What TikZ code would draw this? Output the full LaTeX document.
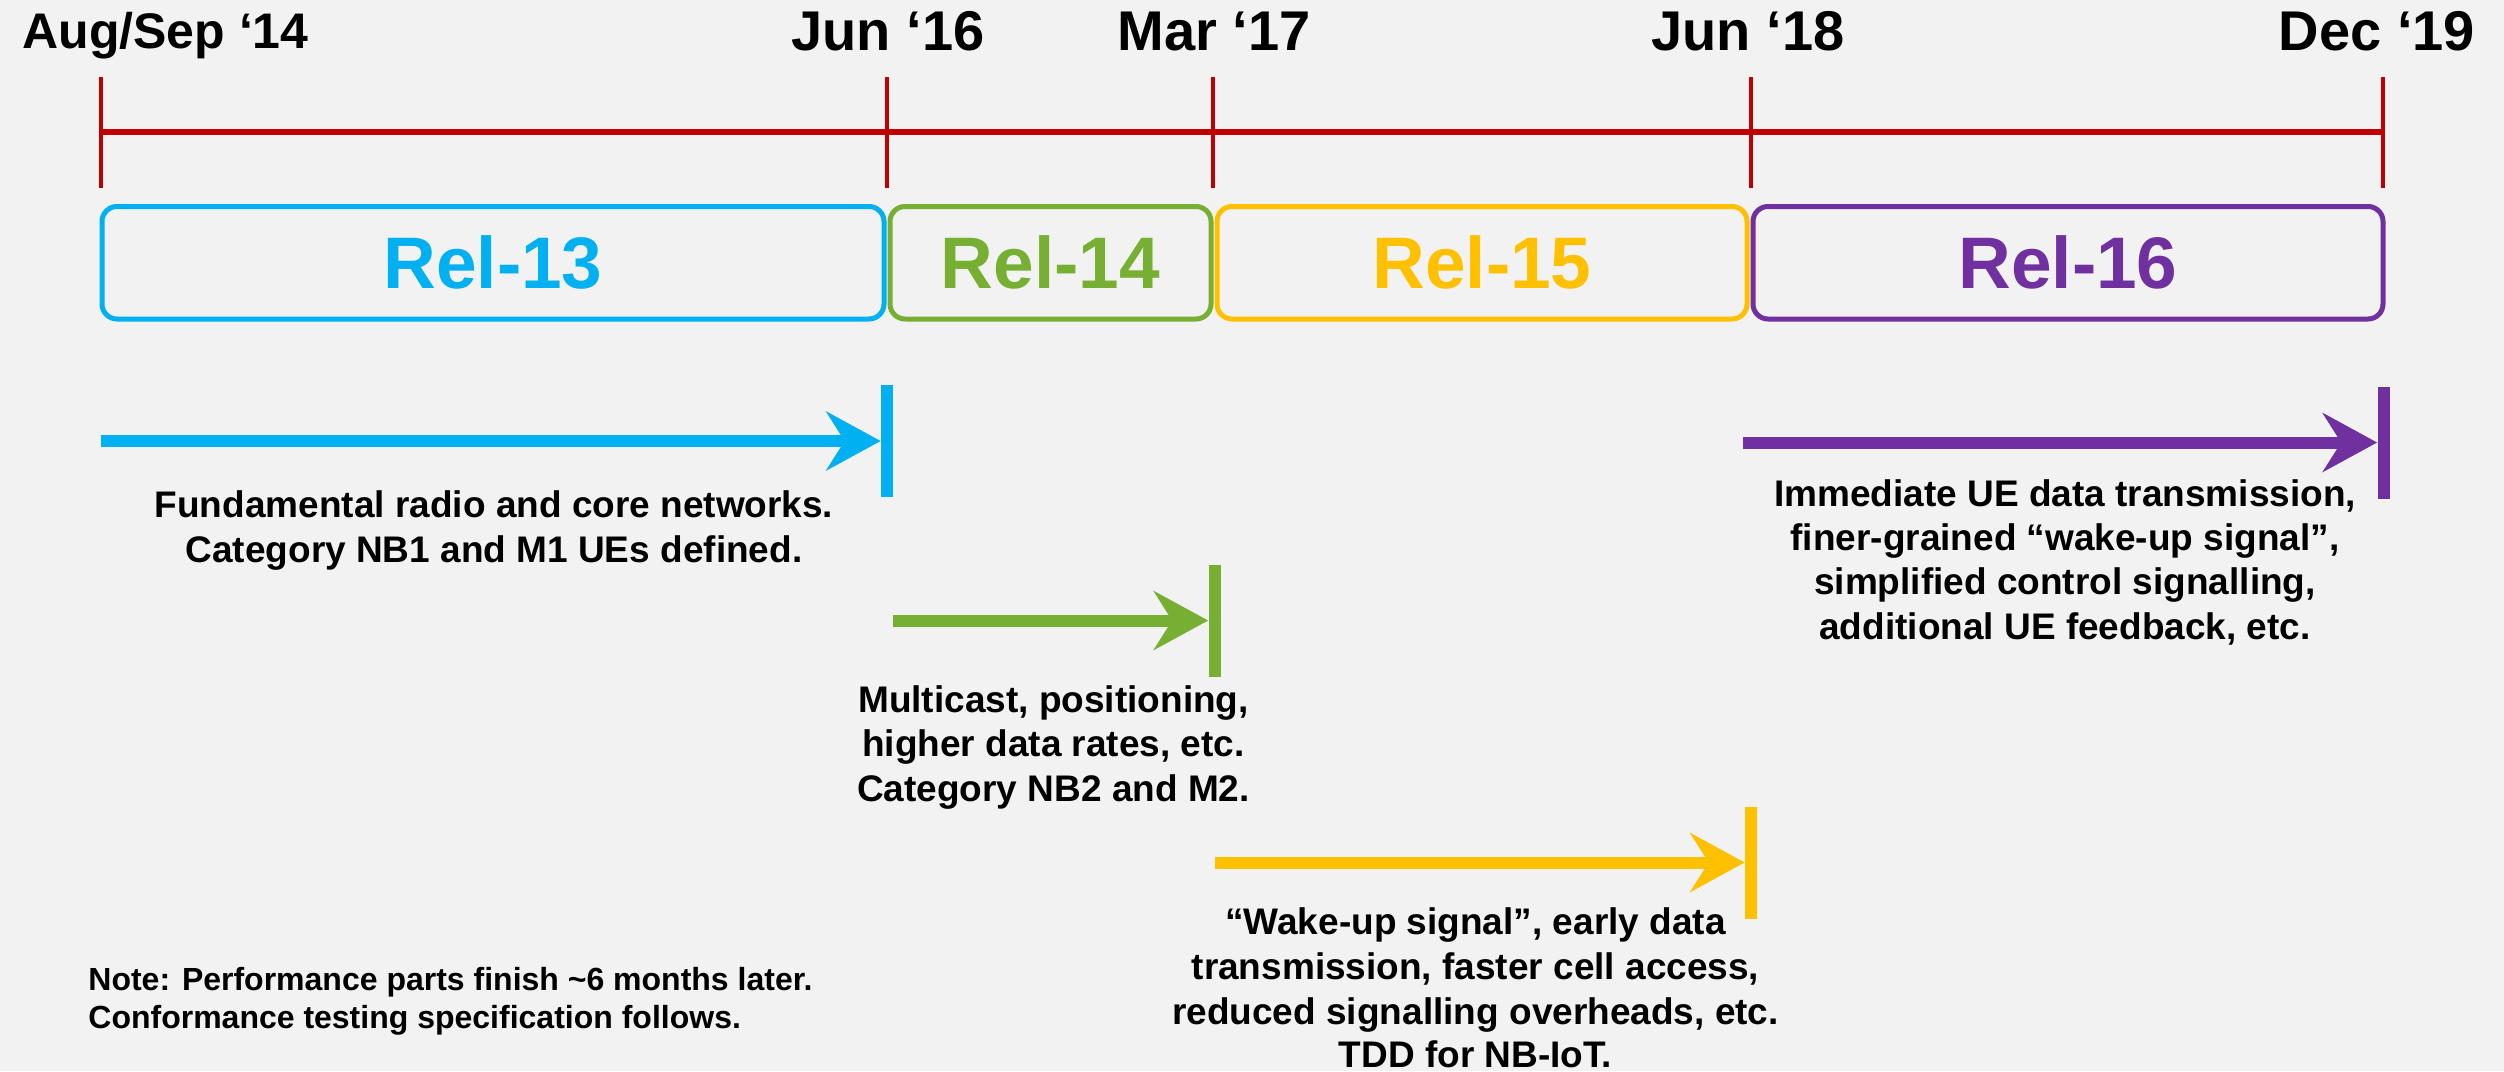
\documentclass[tikz,border=0pt]{standalone}
\usepackage{fontspec}
\setmainfont{Liberation Sans}
\usetikzlibrary{arrows.meta}
\definecolor{bg}{HTML}{F2F2F2}
\definecolor{tlred}{HTML}{C00000}
\definecolor{rblue}{HTML}{00B0F0}
\definecolor{rgreen}{HTML}{77AF32}
\definecolor{ryellow}{HTML}{FFC000}
\definecolor{rpurple}{HTML}{7030A0}
\begin{document}
\begin{tikzpicture}[x=0.5pt,y=-0.5pt,
  datelbl/.style={anchor=base,inner sep=0pt,font=\bfseries\fontsize{28pt}{33pt}\selectfont},
  relbox/.style={draw=#1,text=#1,line width=2.5pt,rounded corners=7.5pt,minimum height=56.25pt,
    inner sep=0pt,font=\bfseries\fontsize{36.5pt}{40pt}\selectfont},
  desc/.style={anchor=base,inner sep=0pt,font=\bfseries\fontsize{18.5pt}{22pt}\selectfont},
  notetxt/.style={anchor=base west,inner sep=0pt,font=\bfseries\fontsize{16pt}{19pt}\selectfont},
  endbar/.style={rectangle,draw=none,fill=#1,inner sep=0pt,minimum width=6pt,minimum height=56pt},
  arr/.style={draw=#1,line width=6pt,-{Stealth[length=27.5pt,width=30pt,inset=9.5pt,line width=0pt]}},
  tick/.style={draw=tlred,line width=2.25pt},
]
\fill[bg] (0,0) rectangle (2504,1071);
\useasboundingbox (0,0) rectangle (2504,1071);

% timeline
\coordinate (t0) at (101,132);
\coordinate (t1) at (887,132);
\coordinate (t2) at (1213,132);
\coordinate (t3) at (1751,132);
\coordinate (t4) at (2383,132);
\draw[tlred,line width=3pt] (t0) -- (t4);
\foreach \t in {t0,t1,t2,t3,t4}{
  \draw[tick] (\t) ++(0,-55) -- ++(0,111);
}

% date labels
\node[anchor=base west,inner sep=0pt,font=\bfseries\fontsize{25pt}{30pt}\selectfont] (dAug) at (22,48) {Aug/Sep ‘14};
\node[datelbl] (dJun16) at (888,50) {Jun ‘16};
\node[datelbl] (dMar17) at (1214,50) {Mar ‘17};
\node[datelbl] (dJun18) at (1748,50) {Jun ‘18};
\node[datelbl] (dDec19) at (2377,50) {Dec ‘19};

% release boxes
\node[relbox=rblue,minimum width=391pt] (r13) at (493,262.75) {Rel-13};
\node[relbox=rgreen,minimum width=160.5pt] (r14) at (1050.5,262.75) {Rel-14};
\node[relbox=ryellow,minimum width=265pt] (r15) at (1482,262.75) {Rel-15};
\node[relbox=rpurple,minimum width=315pt] (r16) at (2068,262.75) {Rel-16};

% Rel-13 arrow
\node[endbar=rblue] (e13) at (887,441) {};
\coordinate (s13) at (101,441);
\draw[arr=rblue] (s13) -- (e13.west);
\node[desc] (d13a) at (494,517) {Fundamental radio and core networks.};
\node[desc] (d13b) at (494,562) {Category NB1 and M1 UEs defined.};

% Rel-14 arrow
\node[endbar=rgreen] (e14) at (1214.5,620.5) {};
\coordinate (s14) at (893,620.5);
\draw[arr=rgreen] (s14) -- (e14.west);
\node[desc] (d14a) at (1053.5,712) {Multicast, positioning,};
\node[desc] (d14b) at (1053.5,756) {higher data rates, etc.};
\node[desc] (d14c) at (1053.5,801) {Category NB2 and M2.};

% Rel-15 arrow
\node[endbar=ryellow] (e15) at (1751,862.5) {};
\coordinate (s15) at (1215,862.5);
\draw[arr=ryellow] (s15) -- (e15.west);
\node[desc] (d15a) at (1475.5,934) {“Wake-up signal”, early data};
\node[desc] (d15b) at (1475.5,979) {transmission, faster cell access,};
\node[desc] (d15c) at (1475.5,1024) {reduced signalling overheads, etc.};
\node[desc] (d15d) at (1475.5,1067) {TDD for NB-IoT.};

% Rel-16 arrow
\node[endbar=rpurple] (e16) at (2383.5,442.5) {};
\coordinate (s16) at (1743,442.5);
\draw[arr=rpurple] (s16) -- (e16.west);
\node[desc] (d16a) at (2065,506) {Immediate UE data transmission,};
\node[desc] (d16b) at (2065,550) {finer-grained “wake-up signal”,};
\node[desc] (d16c) at (2065,594) {simplified control signalling,};
\node[desc] (d16d) at (2065,639) {additional UE feedback, etc.};

% note
\node[notetxt] (n1) at (88,990) {Note: Performance parts finish \textasciitilde 6 months later.};
\node[notetxt] (n2) at (88,1028) {Conformance testing specification follows.};
\end{tikzpicture}
\end{document}
